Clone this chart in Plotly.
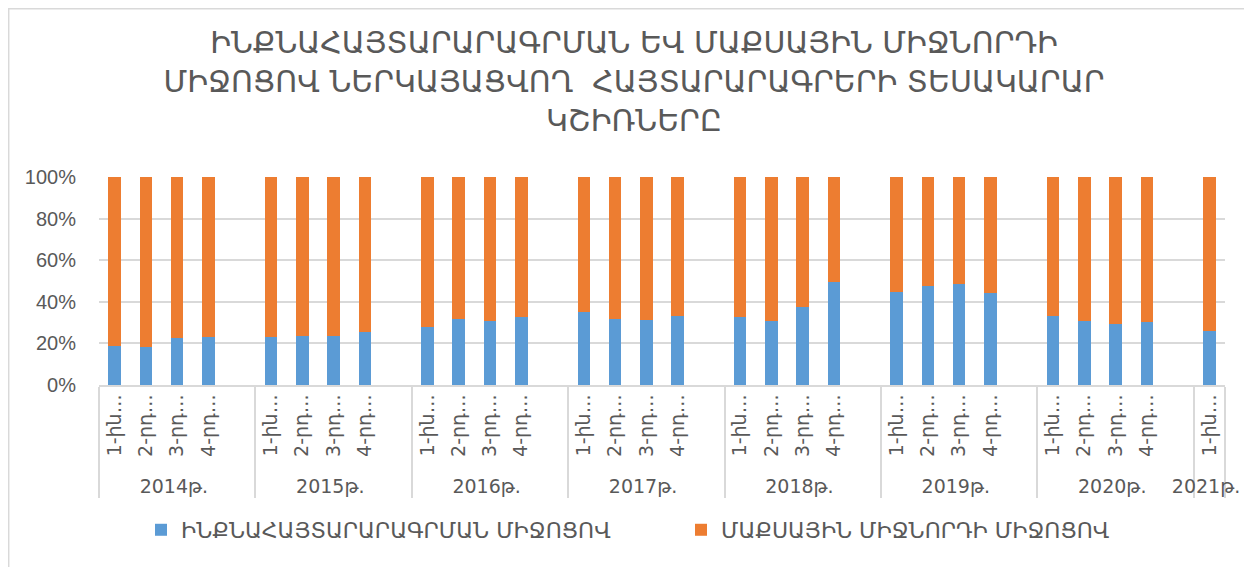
import plotly.graph_objects as go

years = ["2014թ.", "2015թ.", "2016թ.", "2017թ.", "2018թ.", "2019թ.", "2020թ.", "2021թ."]
quarters = ["1-ին…", "2-րդ…", "3-րդ…", "4-րդ…"]

# share of self-declaration (blue), % by year/quarter
self_decl = [
    [18.7, 18.4, 22.4, 23.2],
    [23.2, 23.5, 23.5, 25.6],
    [28.0, 31.9, 30.9, 32.8],
    [35.2, 31.9, 31.4, 33.4],
    [32.8, 31.0, 37.6, 49.3],
    [44.8, 47.4, 48.5, 44.2],
    [33.0, 30.7, 29.4, 30.2],
    [26.1],
]
# share via customs broker (orange), %
broker = [
    [81.3, 81.6, 77.6, 76.8],
    [76.8, 76.5, 76.5, 74.4],
    [72.0, 68.1, 69.1, 67.2],
    [64.8, 68.1, 68.6, 66.6],
    [67.2, 69.0, 62.4, 50.7],
    [55.2, 52.6, 51.5, 55.8],
    [67.0, 69.3, 70.6, 69.8],
    [73.9],
]

y_ticks = [0, 20, 40, 60, 80, 100]
y_tick_text = ["0%", "20%", "40%", "60%", "80%", "100%"]

title_text = ("ԻՆՔՆԱՀԱՅՏԱՐԱՐԱԳՐՄԱՆ ԵՎ ՄԱՔՍԱՅԻՆ ՄԻՋՆՈՐԴԻ<br>"
              "ՄԻՋՈՑՈՎ ՆԵՐԿԱՅԱՑՎՈՂ  ՀԱՅՏԱՐԱՐԱԳՐԵՐԻ ՏԵՍԱԿԱՐԱՐ<br>ԿՇԻՌՆԵՐԸ")
series_names = ["ԻՆՔՆԱՀԱՅՏԱՐԱՐԱԳՐՄԱՆ ՄԻՋՈՑՈՎ", "ՄԱՔՍԱՅԻՆ ՄԻՋՆՈՐԴԻ ՄԻՋՈՑՈՎ"]
colors = ["#5B9BD5", "#ED7D31"]

# build multicategory axis: 4 quarters + one empty slot per year (Excel layout)
outer, inner, blue_vals, orange_vals = [], [], [], []
for yi, y in enumerate(years):
    for qi, v in enumerate(self_decl[yi]):
        outer.append(y)
        inner.append(quarters[qi])
        blue_vals.append(v)
        orange_vals.append(broker[yi][qi])
    if yi < len(years) - 1:
        outer.append(y)
        inner.append(" ")
        blue_vals.append(None)
        orange_vals.append(None)

font_fam = "DejaVu Sans, sans-serif"
grey = "#595959"

fig = go.Figure()
for name, vals, c in zip(series_names, [blue_vals, orange_vals], colors):
    fig.add_trace(go.Bar(x=[outer, inner], y=vals, name=name, marker_color=c,
                         marker_line_width=0))

fig.update_layout(
    barmode="stack",
    bargap=0.6,
    width=1252, height=567,
    paper_bgcolor="white", plot_bgcolor="white",
    margin=dict(l=91, r=35, t=169, b=190, autoexpand=False),
    title=dict(text=title_text, x=0.5, xanchor="center", y=0.921, yanchor="top",
               font=dict(family=font_fam, size=30, color=grey)),
    font=dict(family=font_fam, color=grey),
    legend=dict(orientation="h", x=0.0373, xanchor="left", y=-0.697, yanchor="middle",
                font=dict(family=font_fam, size=22, color=grey),
                itemsizing="constant", traceorder="normal", itemwidth=30,
                entrywidth=495, entrywidthmode="pixels"),
    showlegend=True,
)
fig.update_yaxes(range=[0, 100], tickvals=y_ticks, ticktext=y_tick_text,
                 showgrid=True, gridcolor="#D9D9D9", gridwidth=1.5, zeroline=False,
                 tickfont=dict(family="Liberation Sans, Arial, sans-serif", size=20, color=grey),
                 ticks="", showline=False, automargin=False, ticklabelstandoff=22)
fig.update_xaxes(type="multicategory", tickangle=-90, showline=True, linecolor="#D9D9D9",
                 linewidth=1.5, showdividers=True, dividercolor="#D9D9D9", dividerwidth=1.5,
                 tickfont=dict(family=font_fam, size=19, color=grey), ticks="", automargin=False)
fig.add_shape(type="rect", xref="paper", yref="paper", x0=-0.0802, x1=1.1, y0=-1.2, y1=1.809,
              line=dict(color="#D9D9D9", width=1.5), fillcolor="rgba(0,0,0,0)", layer="below")

fig.write_html("out.html")
